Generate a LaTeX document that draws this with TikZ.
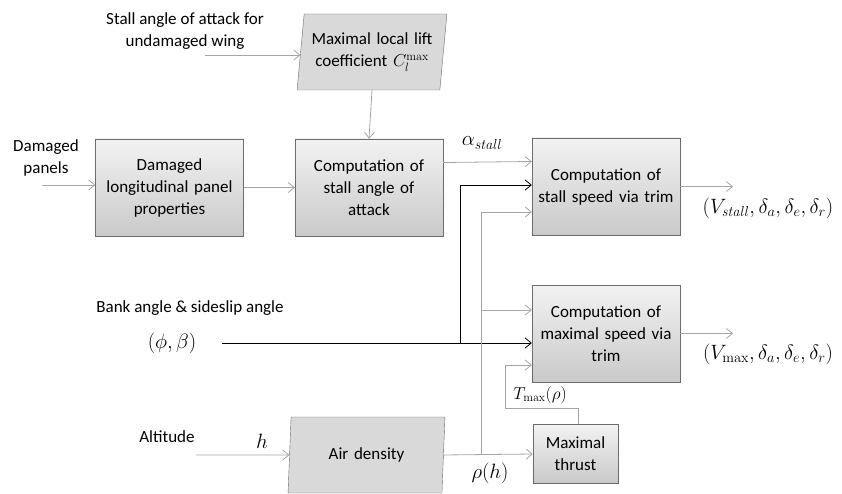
\documentclass[tikz,border=0pt]{standalone}
\usepackage[no-math]{fontspec}
\setmainfont{Carlito}
\usetikzlibrary{arrows.meta,shapes.geometric}

\tikzset{
  block/.style={draw=gray!85!black, top color=gray!10, bottom color=gray!42,
    minimum width=148, minimum height=97, text width=136, align=center, inner sep=2pt},
  slanted/.style={draw=gray!85!black, fill=gray!30, trapezium,
    trapezium left angle=80, trapezium right angle=100, trapezium stretches=true,
    minimum width=150, minimum height=76, text width=128, align=center, inner sep=0pt},
  gline/.style={draw=gray!70, line width=0.8pt},
  bline/.style={draw=black, line width=0.8pt},
  mlabel/.style={font=\fontsize{20}{24}\selectfont}
}

\begin{document}
\begin{tikzpicture}[x=1pt, y=-1pt, >={Straight Barb[length=6pt,width=10pt]},
  font=\fontsize{17}{22}\selectfont]
  \useasboundingbox (0,0) rectangle (842,494);

  % blocks
  \node[slanted] (liftcoef) at (372,52) {Maximal local lift\\coefficient $C_l^{\max}$};
  \node[block] (damaged) at (169.5,187.5) {Damaged\\longitudinal panel\\properties};
  \node[block] (stallang) at (369,187.5) {Computation of\\stall angle of\\attack};
  \node[block] (stallspd) at (606,186.5) {Computation of\\stall speed via trim};
  \node[block] (maxspd) at (606,333.5) {Computation of\\maximal speed via\\trim};
  \node[slanted, minimum width=157] (airden) at (366.5,455) {Air density};
  \node[block, minimum width=85, minimum height=59, text width=80] (thrust) at (575.5,454) {Maximal\\thrust};

  % texts
  \node[align=center] (stalltxt) at (185,31) {Stall angle of attack for\\undamaged wing};
  \node[align=center] (paneltxt) at (46,158) {Damaged\\panels};
  \node (banktxt) at (190,308) {Bank angle \& sideslip angle};
  \node[mlabel] (phibeta) at (172,343) {$(\phi,\beta)$};
  \node (alttxt) at (167,437) {Altitude};
  \node[mlabel] (hlab) at (262,441) {$h$};
  \node[mlabel] (alab) at (482,143) {$\alpha_{\mathit{stall}}$};
  \node[mlabel] (rholab) at (490,473) {$\rho(h)$};
  \node[font=\fontsize{18}{22}\selectfont] (tlab) at (540,395) {$T_{\max}(\rho)$};
  \node[mlabel] (out1lab) at (768,208) {$(V_{\mathit{stall}},\delta_a,\delta_e,\delta_r)$};
  \node[mlabel] (out2lab) at (768,354) {$(V_{\max},\delta_a,\delta_e,\delta_r)$};

  % free ends and junctions
  \coordinate (stallin) at (205,55);
  \coordinate (panelin) at (42,185);
  \coordinate (bankin) at (222,343);
  \coordinate (altin) at (196,455);
  \coordinate (bj) at (460,343);
  \coordinate (rj) at (481,455);
  \coordinate (tk) at (505,408);
  \coordinate (out1) at (733,186.5);
  \coordinate (out2) at (733,333.5);

  % connectors
  \draw[gline,->] (stallin) -- (stallin -| liftcoef.west);
  \draw[gline,->] (liftcoef.south) -- (stallang.north);
  \draw[gline,->] (panelin) -- (panelin -| damaged.west);
  \draw[gline,->] (damaged) -- (stallang);
  \draw[gline,->] ([yshift=25]stallang.east) -- ([yshift=25]stallspd.west);
  \draw[bline,->] (bankin) -- (bankin -| maxspd.west);
  \draw[bline,->] (bj) |- ([yshift=1.5]stallspd.west);
  \draw[gline,->] (altin) -- (airden.west);
  \draw[gline,->] (airden.east) -- (thrust.west);
  \draw[gline,->] (rj) |- ([yshift=-25.5]stallspd.west);
  \draw[gline,->] (rj) |- ([yshift=23.5]maxspd.west);
  \draw[gline,->] ([xshift=3]thrust.north) |- (tk) |- ([yshift=-31.5]maxspd.west);
  \draw[gline,->] (stallspd.east) -- (out1);
  \draw[gline,->] (maxspd.east) -- (out2);
\end{tikzpicture}
\end{document}
